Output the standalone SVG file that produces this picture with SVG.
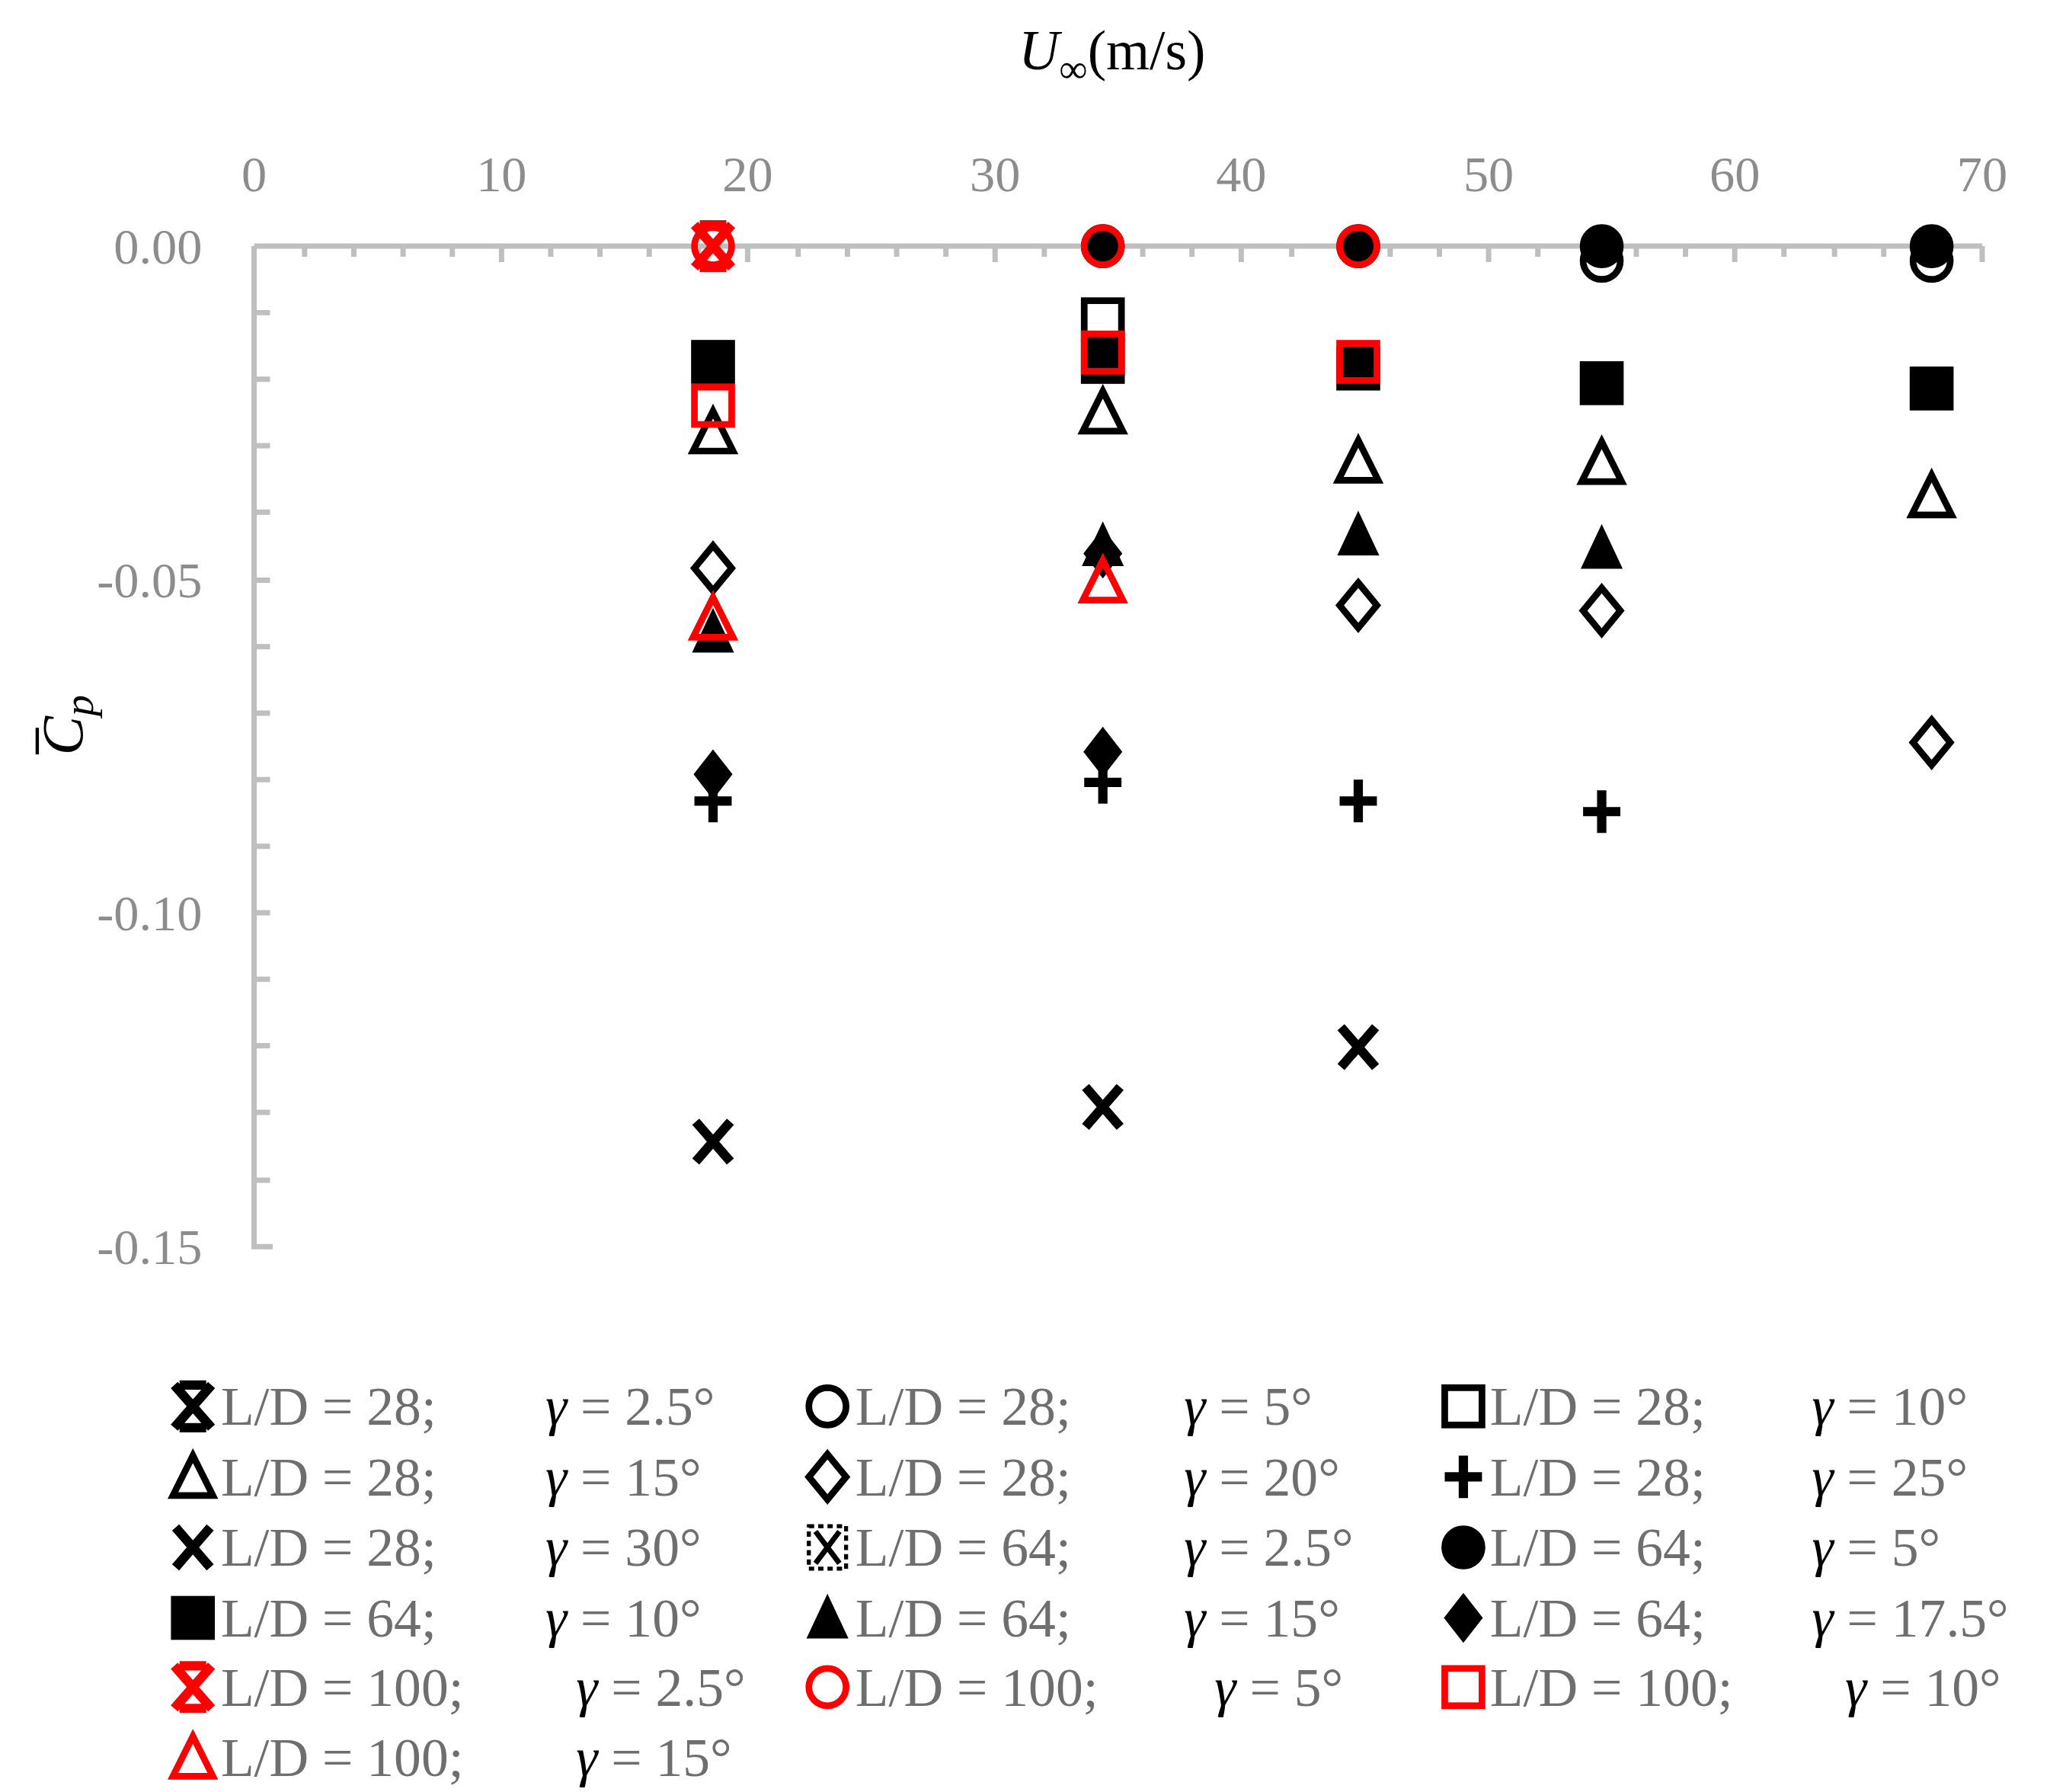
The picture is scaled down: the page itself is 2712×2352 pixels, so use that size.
<svg xmlns="http://www.w3.org/2000/svg" width="2712" height="2352" viewBox="0 0 2712 2352">
<style>
.ax{stroke:#bfbfbf;stroke-width:4;fill:none}
.tk{font-family:"Liberation Serif",serif;font-size:38px;fill:#8c8c8c}
.lg{font-family:"Liberation Serif",serif;font-size:41px;fill:#6e6e6e}
.gm{font-family:"Liberation Serif",serif;font-size:41px;font-style:italic;fill:#000}
.o{fill:none;stroke-width:5}
</style>
<defs>
<g id="mXs"><path d="M-14,-16L14,16M14,-16L-14,16M-10,-16H10M-10,16H10" stroke-width="7" fill="none"/></g>
<g id="mCo"><circle r="14" class="o"/></g>
<g id="mSo"><rect x="-14" y="-14" width="28" height="28" class="o"/></g>
<g id="mTo"><path d="M0,-16L15,14H-15Z" class="o" stroke-linejoin="miter"/></g>
<g id="mDo"><path d="M0,-17L14,0L0,17L-14,0Z" class="o"/></g>
<g id="mP"><path d="M-14,0H14M0,-16V16" stroke-width="7" fill="none"/></g>
<g id="mX"><path d="M-13,-15L13,15M13,-15L-13,15" stroke-width="7" fill="none"/></g>
<g id="mXb"><rect x="-14" y="-16" width="28" height="32" fill="none" stroke-width="3" stroke-dasharray="4 3"/><path d="M-9,-12L9,12M9,-12L-9,12" stroke-width="4" fill="none"/></g>
<g id="mCf"><circle r="16"/></g>
<g id="mSf"><rect x="-16" y="-16" width="32" height="32"/></g>
<g id="mTf"><path d="M0,-17L15,15H-15Z"/></g>
<g id="mDf"><path d="M0,-18L14,0L0,18L-14,0Z"/></g>
</defs>
<rect width="2712" height="2352" fill="#fff"/>
<g transform="scale(1.7463)">
<g id="axes">
<path class="ax" d="M191,185H1490M191,185V937H205"/>
<path class="ax" d="M229,185v8M266,185v8M303,185v8M340,185v8M377,185v12M414,185v8M451,185v8M488,185v8M525,185v8M562,185v12M600,185v8M637,185v8M674,185v8M711,185v8M748,185v12M785,185v8M822,185v8M859,185v8M896,185v8M933,185v12M971,185v8M1008,185v8M1045,185v8M1082,185v8M1119,185v12M1156,185v8M1193,185v8M1230,185v8M1267,185v8M1304,185v12M1341,185v8M1379,185v8M1416,185v8M1453,185v8M1490,185v12"/>
<path class="ax" d="M191,235h12M191,285h12M191,335h12M191,385h12M191,436h12M191,486h12M191,536h12M191,586h12M191,636h12M191,686h12M191,736h12M191,786h12M191,836h12M191,887h12"/>
<g class="tk" text-anchor="middle">
<text x="191" y="144">0</text><text x="377" y="144">10</text><text x="562" y="144">20</text><text x="748" y="144">30</text><text x="933" y="144">40</text><text x="1119" y="144">50</text><text x="1304" y="144">60</text><text x="1490" y="144">70</text>
</g>
<g class="tk" text-anchor="end">
<text x="152" y="198">0.00</text><text x="152" y="449">-0.05</text><text x="152" y="699">-0.10</text><text x="152" y="950">-0.15</text>
</g>
<text x="836" y="52" text-anchor="middle" font-family="Liberation Serif,serif" font-size="42"><tspan font-style="italic">U</tspan><tspan font-size="30" dy="10">∞</tspan><tspan dy="-10">(m/s)</tspan></text>
<g transform="translate(62,545) rotate(-90)"><text text-anchor="middle" font-family="Liberation Serif,serif" font-size="44" font-style="italic">C<tspan font-size="32" dy="8">p</tspan></text><path d="M-22,-34H-2" stroke="#000" stroke-width="2.5"/></g>
</g>
<g id="points">
<g fill="#000" stroke="#000">
<use href="#mSf" x="536" y="272"/><use href="#mTo" x="536" y="325"/><use href="#mDo" x="536" y="427"/><use href="#mTf" x="536" y="475"/><use href="#mDf" x="536" y="582"/><use href="#mP" x="536" y="602"/><use href="#mX" x="536" y="858"/>
<use href="#mSo" x="829" y="240"/><use href="#mSf" x="829" y="272"/><use href="#mTo" x="829" y="310"/><use href="#mTf" x="829" y="410"/><use href="#mDf" x="829" y="416"/><use href="#mDf" x="829" y="565"/><use href="#mP" x="829" y="588"/><use href="#mX" x="829" y="832"/><use href="#mCf" x="829" y="185"/>
<use href="#mSf" x="1021" y="277"/><use href="#mTo" x="1021" y="347"/><use href="#mTf" x="1021" y="402"/><use href="#mDo" x="1021" y="455"/><use href="#mP" x="1021" y="602"/><use href="#mX" x="1021" y="787"/><use href="#mCf" x="1021" y="185"/>
<use href="#mCo" x="1204" y="196"/><use href="#mCf" x="1204" y="185"/><use href="#mSf" x="1204" y="288"/><use href="#mTo" x="1204" y="348"/><use href="#mTf" x="1204" y="412"/><use href="#mDo" x="1204" y="459"/><use href="#mP" x="1204" y="610"/>
<use href="#mCo" x="1452" y="196"/><use href="#mCf" x="1452" y="185"/><use href="#mSf" x="1452" y="292"/><use href="#mTo" x="1452" y="373"/><use href="#mDo" x="1452" y="558"/>
</g>
<g fill="#f00" stroke="#f00">
<use href="#mXs" x="536" y="185"/><use href="#mCo" x="536" y="185"/><use href="#mSo" x="536" y="305"/><use href="#mTo" x="536" y="465"/>
<use href="#mCo" x="829" y="185"/><use href="#mSo" x="829" y="265"/><use href="#mTo" x="829" y="437"/>
<use href="#mCo" x="1021" y="185"/><use href="#mSo" x="1021" y="272"/>
</g>
<g fill="#000"><rect x="822" y="258" width="14" height="14"/><rect x="1014" y="265" width="14" height="14"/></g>
</g>
<g id="legend">
<g fill="#000" stroke="#000">
<use href="#mXs" x="145" y="1057"/><use href="#mCo" x="622" y="1057"/><use href="#mSo" x="1100" y="1057"/>
<use href="#mTo" x="145" y="1110"/><use href="#mDo" x="622" y="1110"/><use href="#mP" x="1100" y="1110"/>
<use href="#mX" x="145" y="1163"/><use href="#mXb" x="622" y="1163"/><use href="#mCf" x="1100" y="1163"/>
<use href="#mSf" x="145" y="1216"/><use href="#mTf" x="622" y="1216"/><use href="#mDf" x="1100" y="1216"/>
</g>
<g fill="#f00" stroke="#f00">
<use href="#mXs" x="145" y="1268"/><use href="#mCo" x="622" y="1268"/><use href="#mSo" x="1100" y="1268"/><use href="#mTo" x="145" y="1321"/>
</g>
<g class="lg">
<text x="166" y="1071">L/D = 28;</text><text x="643" y="1071">L/D = 28;</text><text x="1120" y="1071">L/D = 28;</text>
<text x="166" y="1124">L/D = 28;</text><text x="643" y="1124">L/D = 28;</text><text x="1120" y="1124">L/D = 28;</text>
<text x="166" y="1177">L/D = 28;</text><text x="643" y="1177">L/D = 64;</text><text x="1120" y="1177">L/D = 64;</text>
<text x="166" y="1230">L/D = 64;</text><text x="643" y="1230">L/D = 64;</text><text x="1120" y="1230">L/D = 64;</text>
<text x="166" y="1282">L/D = 100;</text><text x="643" y="1282">L/D = 100;</text><text x="1120" y="1282">L/D = 100;</text>
<text x="166" y="1335">L/D = 100;</text>
</g>
<g class="lg">
<text x="410" y="1071"><tspan class="gm">γ</tspan> = 2.5°</text><text x="890" y="1071"><tspan class="gm">γ</tspan> = 5°</text><text x="1362" y="1071"><tspan class="gm">γ</tspan> = 10°</text>
<text x="410" y="1124"><tspan class="gm">γ</tspan> = 15°</text><text x="890" y="1124"><tspan class="gm">γ</tspan> = 20°</text><text x="1362" y="1124"><tspan class="gm">γ</tspan> = 25°</text>
<text x="410" y="1177"><tspan class="gm">γ</tspan> = 30°</text><text x="890" y="1177"><tspan class="gm">γ</tspan> = 2.5°</text><text x="1084" y="1177" opacity="0"> </text><text x="1362" y="1177"><tspan class="gm">γ</tspan> = 5°</text>
<text x="410" y="1230"><tspan class="gm">γ</tspan> = 10°</text><text x="890" y="1230"><tspan class="gm">γ</tspan> = 15°</text><text x="1362" y="1230"><tspan class="gm">γ</tspan> = 17.5°</text>
<text x="433" y="1282"><tspan class="gm">γ</tspan> = 2.5°</text><text x="913" y="1282"><tspan class="gm">γ</tspan> = 5°</text><text x="1387" y="1282"><tspan class="gm">γ</tspan> = 10°</text>
<text x="433" y="1335"><tspan class="gm">γ</tspan> = 15°</text>
</g>
</g>
</g>
</svg>
